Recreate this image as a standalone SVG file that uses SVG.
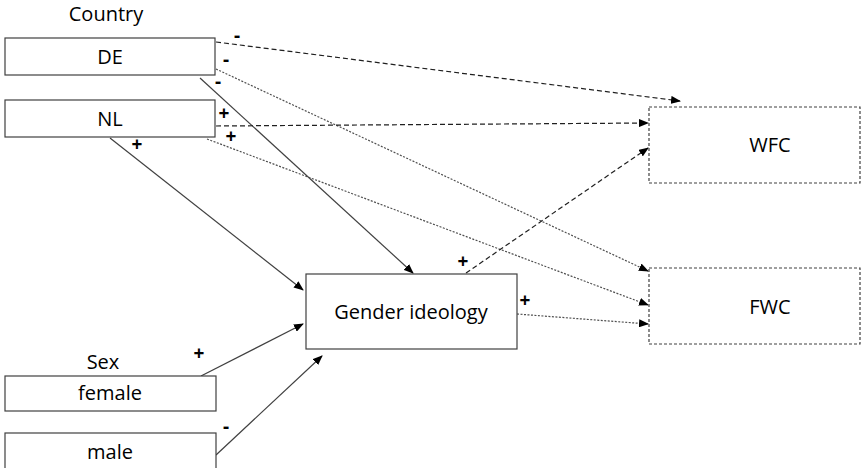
<svg xmlns="http://www.w3.org/2000/svg" width="861" height="468" viewBox="0 0 861 468">
<defs>
<marker id="arr" markerWidth="10" markerHeight="8" refX="9" refY="4" orient="auto" markerUnits="userSpaceOnUse">
<path d="M0,0 L10,4 L0,8 z" fill="#000"/>
</marker>
<style>
text{font-family:"Open Sans","Noto Sans","Liberation Sans",sans-serif;fill:#000}
.lbl{font-size:20px;text-anchor:middle}
.sgn{font-size:19px;font-weight:bold;text-anchor:middle}
.box{fill:#fff;stroke:#404040;stroke-width:1.2}
.dbox{fill:#fff;stroke:#404040;stroke-width:1.2;stroke-dasharray:3 2}
.solid{stroke:#404040;stroke-width:1.2;fill:none}
.dash{stroke:#202020;stroke-width:1.2;fill:none;stroke-dasharray:5 3}
.dot{stroke:#505050;stroke-width:1.2;fill:none;stroke-dasharray:2 1.5}
</style>
</defs>
<text class="lbl" x="106" y="21">Country</text>
<text class="lbl" x="103" y="369">Sex</text>
<g id="connectors">
<line class="dash" x1="216" y1="42" x2="680" y2="101" marker-end="url(#arr)"/>
<line class="dot" x1="216" y1="69" x2="648" y2="271" marker-end="url(#arr)"/>
<line class="solid" x1="200" y1="78" x2="413" y2="273" marker-end="url(#arr)"/>
<line class="dash" x1="216" y1="126" x2="648" y2="123" marker-end="url(#arr)"/>
<line class="dot" x1="207" y1="139" x2="648" y2="305" marker-end="url(#arr)"/>
<line class="solid" x1="110" y1="138" x2="303" y2="290" marker-end="url(#arr)"/>
<line class="dash" x1="466" y1="273" x2="648" y2="148" marker-end="url(#arr)"/>
<line class="dot" x1="517" y1="314" x2="648" y2="324" marker-end="url(#arr)"/>
<line class="solid" x1="201" y1="376" x2="303" y2="324" marker-end="url(#arr)"/>
<line class="solid" x1="216" y1="455" x2="322" y2="356" marker-end="url(#arr)"/>
<text class="sgn" x="237" y="42">-</text>
<text class="sgn" x="226" y="66">-</text>
<text class="sgn" x="218" y="88">-</text>
<text class="sgn" x="224" y="120">+</text>
<text class="sgn" x="231" y="143">+</text>
<text class="sgn" x="137" y="151">+</text>
<text class="sgn" x="463" y="268">+</text>
<text class="sgn" x="525" y="307">+</text>
<text class="sgn" x="199" y="360">+</text>
<text class="sgn" x="226" y="433">-</text>
</g>
<g id="de"><rect class="box" x="5" y="38" width="210" height="37"/><text class="lbl" x="110" y="64">DE</text></g>
<g id="nl"><rect class="box" x="5" y="100" width="210" height="37"/><text class="lbl" x="110" y="126">NL</text></g>
<g id="gender"><rect class="box" x="306" y="274" width="211" height="75"/><text class="lbl" x="411" y="319">Gender ideology</text></g>
<g id="wfc"><rect class="dbox" x="649" y="107" width="211" height="76"/><text class="lbl" x="770" y="152">WFC</text></g>
<g id="fwc"><rect class="dbox" x="649" y="268" width="211" height="76"/><text class="lbl" x="770" y="314">FWC</text></g>
<g id="female"><rect class="box" x="5" y="376" width="211" height="35"/><text class="lbl" x="110" y="400">female</text></g>
<g id="male"><rect class="box" x="5" y="433" width="211" height="40"/><text class="lbl" x="110" y="459">male</text></g>
</svg>
